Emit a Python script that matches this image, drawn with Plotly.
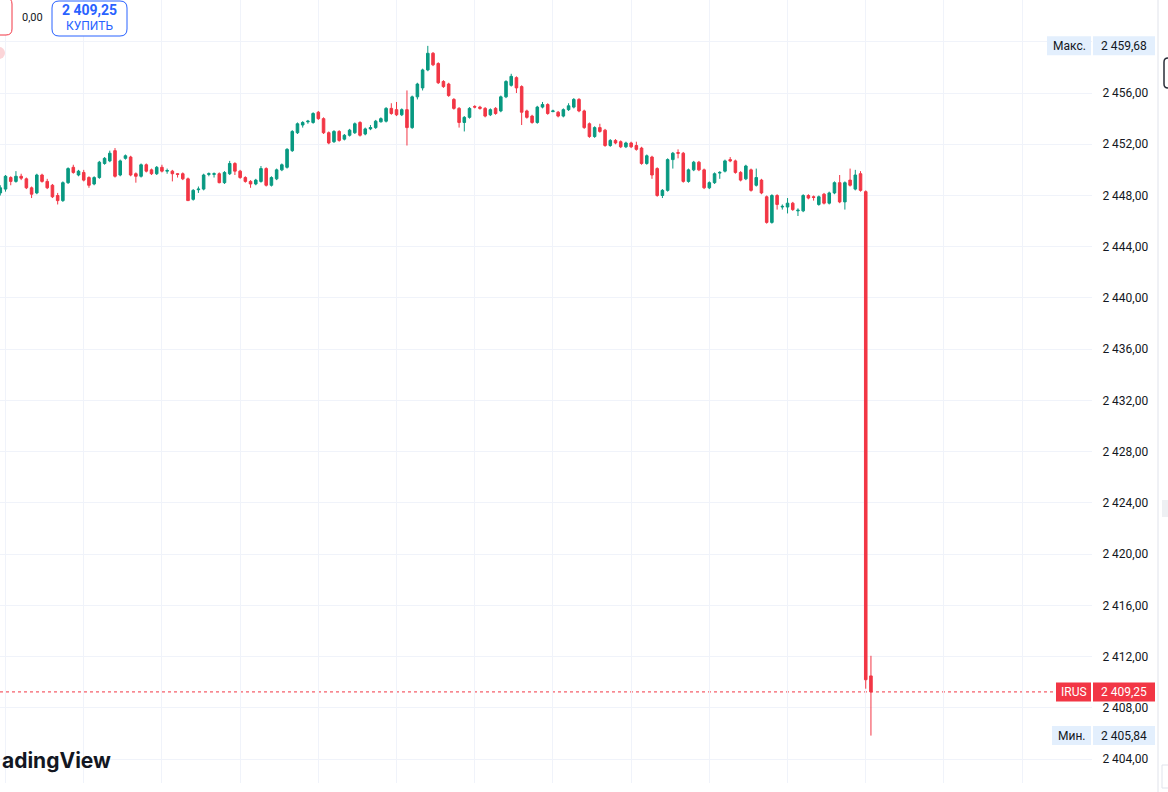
import plotly.graph_objects as go

# ---- data (1-minute candles) ----
opens = [2448.2, 2448.5, 2449.4, 2449.1, 2449.5, 2449.3, 2448.6, 2448.2, 2449.6, 2449.1,
         2448.8, 2448.0, 2447.6, 2449.0, 2450.2, 2449.6, 2449.8, 2449.4, 2448.9, 2449.4,
         2450.5, 2450.7, 2451.5, 2449.6, 2450.9, 2451.0, 2449.7, 2449.5, 2450.4, 2450.0,
         2449.7, 2450.2, 2449.9, 2449.9, 2449.7, 2449.7, 2449.3, 2447.7, 2448.45, 2448.5,
         2449.65, 2449.65, 2449.7, 2449.0, 2449.7, 2450.5, 2449.9, 2449.4, 2449.1, 2448.9,
         2449.1, 2450.1, 2448.8, 2449.3, 2450.0, 2450.2, 2451.5, 2452.9, 2453.5, 2453.75,
         2453.7, 2454.5, 2454.0, 2452.9, 2452.2, 2453.0, 2452.4, 2452.7, 2452.9, 2453.7,
         2452.8, 2453.2, 2453.3, 2453.75, 2453.8, 2454.8, 2454.7, 2454.3, 2454.7, 2453.3,
         2455.7, 2456.4, 2457.8, 2459.1, 2458.3, 2456.9, 2456.7, 2455.5, 2454.8, 2453.7,
         2454.1, 2454.95, 2454.9, 2454.8, 2454.3, 2454.8, 2454.6, 2455.7, 2456.6, 2457.2,
         2456.5, 2454.6, 2454.2, 2453.7, 2454.9, 2455.1, 2454.55, 2454.5, 2454.2, 2454.7,
         2454.9, 2455.5, 2454.6, 2453.6, 2452.6, 2453.3, 2453.1, 2451.9, 2452.3, 2452.2,
         2451.8, 2452.1, 2451.9, 2451.7, 2450.5, 2451.0, 2450.1, 2448.0, 2448.4, 2450.8,
         2451.35, 2451.3, 2449.1, 2450.0, 2450.6, 2450.0, 2448.6, 2449.0, 2449.75, 2449.9,
         2450.8, 2450.7, 2449.8, 2449.3, 2450.0, 2448.8, 2449.2, 2447.9, 2445.9, 2448.0,
         2447.1, 2447.1, 2447.4, 2446.8, 2446.8, 2448.0, 2447.9, 2447.3, 2448.1, 2447.4,
         2448.2, 2449.0, 2447.5, 2449.2, 2448.5, 2449.7, 2448.3, 2410.5]
highs = [2448.8, 2449.6, 2449.5, 2449.9, 2449.7, 2449.4, 2448.7, 2449.7, 2449.7, 2449.3,
         2448.9, 2448.2, 2449.1, 2450.2, 2450.4, 2450.0, 2450.0, 2449.5, 2449.5, 2450.7,
         2451.0, 2451.5, 2451.7, 2450.8, 2451.2, 2451.1, 2449.8, 2450.5, 2450.5, 2450.1,
         2450.3, 2450.4, 2450.1, 2450.0, 2449.75, 2449.8, 2449.4, 2448.5, 2448.7, 2449.7,
         2449.8, 2449.8, 2449.8, 2449.9, 2450.7, 2450.6, 2450.0, 2449.5, 2449.2, 2449.3,
         2450.3, 2450.2, 2449.5, 2450.1, 2450.5, 2451.7, 2453.1, 2453.7, 2453.8, 2453.9,
         2454.5, 2454.6, 2454.1, 2453.0, 2453.1, 2453.1, 2452.8, 2453.2, 2453.7, 2453.8,
         2453.3, 2453.5, 2453.9, 2454.1, 2454.9, 2455.2, 2455.3, 2454.8, 2456.2, 2455.8,
         2456.8, 2457.9, 2459.68, 2459.2, 2458.4, 2457.0, 2456.8, 2455.6, 2454.9, 2454.2,
         2454.9, 2455.05, 2455.0, 2454.9, 2454.8, 2454.9, 2455.8, 2457.0, 2457.5, 2457.3,
         2456.6, 2454.7, 2454.3, 2455.0, 2455.3, 2455.2, 2454.7, 2454.6, 2454.8, 2455.2,
         2455.6, 2455.6, 2454.7, 2453.7, 2453.4, 2453.6, 2453.2, 2452.4, 2452.4, 2452.3,
         2452.2, 2452.2, 2452.2, 2451.8, 2451.2, 2451.1, 2450.2, 2448.5, 2450.9, 2451.4,
         2451.6, 2451.4, 2450.1, 2450.7, 2450.7, 2450.1, 2449.1, 2449.8, 2449.9, 2450.8,
         2451.0, 2450.8, 2449.9, 2450.4, 2450.1, 2450.1, 2449.3, 2448.0, 2448.1, 2448.1,
         2447.3, 2447.8, 2447.5, 2447.0, 2448.1, 2448.1, 2448.0, 2448.0, 2448.2, 2448.3,
         2449.1, 2449.6, 2449.1, 2450.1, 2450.0, 2449.9, 2448.4, 2412.07]
lows = [2448.0, 2448.3, 2448.8, 2449.0, 2449.2, 2448.5, 2447.8, 2448.1, 2449.0, 2448.5,
        2447.8, 2447.3, 2447.5, 2448.9, 2449.7, 2449.5, 2449.1, 2448.6, 2448.8, 2449.3,
        2450.4, 2450.6, 2449.4, 2449.5, 2450.8, 2449.5, 2449.0, 2449.4, 2449.8, 2449.6,
        2449.6, 2449.8, 2449.7, 2449.1, 2449.4, 2449.2, 2447.6, 2447.6, 2448.2, 2448.4,
        2449.5, 2449.4, 2448.95, 2448.9, 2449.6, 2449.6, 2449.3, 2449.0, 2448.6, 2448.8,
        2449.0, 2448.7, 2448.7, 2449.2, 2449.9, 2450.1, 2451.4, 2452.8, 2453.3, 2453.6,
        2453.6, 2453.9, 2452.8, 2452.0, 2452.1, 2452.2, 2452.3, 2452.6, 2452.8, 2452.6,
        2452.7, 2453.1, 2453.2, 2453.7, 2453.7, 2454.3, 2454.2, 2454.2, 2451.9, 2453.2,
        2455.5, 2456.2, 2457.7, 2458.1, 2456.7, 2456.4, 2455.7, 2454.7, 2453.3, 2453.0,
        2454.0, 2454.8, 2454.7, 2454.1, 2454.2, 2454.3, 2454.5, 2455.6, 2456.5, 2456.0,
        2453.5, 2454.0, 2453.6, 2453.6, 2454.8, 2454.3, 2454.5, 2454.1, 2454.1, 2454.6,
        2454.8, 2454.5, 2453.2, 2452.5, 2452.5, 2452.9, 2451.8, 2451.8, 2452.0, 2451.7,
        2451.7, 2451.7, 2451.5, 2450.4, 2450.4, 2449.3, 2447.9, 2447.8, 2448.3, 2450.1,
        2450.9, 2449.0, 2449.0, 2449.9, 2449.9, 2448.5, 2448.5, 2448.9, 2449.3, 2449.8,
        2450.6, 2449.7, 2449.1, 2449.2, 2448.3, 2448.7, 2448.1, 2445.8, 2445.8, 2446.9,
        2446.9, 2446.6, 2446.8, 2446.4, 2446.7, 2447.7, 2447.6, 2447.2, 2447.3, 2447.3,
        2448.1, 2447.4, 2446.9, 2448.7, 2448.4, 2448.3, 2409.5, 2405.84]
closes = [2448.6, 2449.5, 2449.1, 2449.5, 2449.35, 2448.6, 2448.1, 2449.6, 2449.1, 2448.6,
          2447.9, 2447.6, 2449.0, 2450.1, 2449.8, 2449.9, 2449.2, 2448.8, 2449.4, 2450.6,
          2450.9, 2451.3, 2449.5, 2450.7, 2451.1, 2449.6, 2449.5, 2450.4, 2449.9, 2449.7,
          2450.2, 2449.9, 2449.95, 2449.7, 2449.65, 2449.3, 2447.6, 2448.4, 2448.5, 2449.6,
          2449.7, 2449.7, 2449.0, 2449.8, 2450.5, 2449.9, 2449.4, 2449.1, 2448.9, 2449.2,
          2450.1, 2448.8, 2449.4, 2450.0, 2450.4, 2451.6, 2453.0, 2453.6, 2453.7, 2453.8,
          2454.4, 2454.0, 2452.9, 2452.1, 2453.0, 2452.3, 2452.7, 2453.1, 2453.6, 2452.7,
          2453.2, 2453.3, 2453.8, 2454.0, 2454.8, 2454.4, 2454.3, 2454.7, 2453.3, 2455.7,
          2456.7, 2457.8, 2459.1, 2458.2, 2456.8, 2456.5, 2455.8, 2454.8, 2453.7, 2454.1,
          2454.8, 2454.9, 2454.8, 2454.2, 2454.7, 2454.4, 2455.7, 2456.9, 2457.3, 2456.4,
          2454.5, 2454.1, 2453.7, 2454.9, 2455.1, 2454.4, 2454.6, 2454.2, 2454.7, 2455.0,
          2455.5, 2454.6, 2453.3, 2452.6, 2453.3, 2453.0, 2451.9, 2452.3, 2452.1, 2451.8,
          2452.1, 2451.8, 2451.6, 2450.5, 2451.1, 2449.6, 2448.0, 2448.4, 2450.8, 2451.3,
          2451.3, 2449.1, 2450.0, 2450.6, 2450.0, 2448.6, 2449.0, 2449.7, 2449.8, 2450.7,
          2450.7, 2449.8, 2449.2, 2450.3, 2448.4, 2449.4, 2448.2, 2445.9, 2448.0, 2447.3,
          2447.15, 2447.4, 2446.9, 2446.85, 2448.0, 2447.8, 2447.85, 2447.9, 2447.4, 2448.2,
          2449.0, 2447.5, 2449.0, 2448.8, 2449.6, 2448.4, 2410.2, 2409.25]
minutes = list(range(len(closes)))
price_ticks = [2404, 2408, 2412, 2416, 2420, 2424, 2428, 2432, 2436, 2440,
               2444, 2448, 2452, 2456, 2460]
symbol = "IRUS"
last_price = 2409.25
max_price = 2459.68
min_price = 2405.84
buy_label = "КУПИТЬ"
spread_label = "0,00"
max_label = "Макс."
min_label = "Мин."
logo_text = "adingView"

GREEN = "#089981"
RED = "#f23645"
GRID = "#f0f3fa"
TEXT = "#131722"
LABEL_BG = "#e3effd"
BLUE = "#2962ff"

W, H = 1168, 792
PL, PR, PT, PB = 0, 1092, 0, 783   # plot area in pixels


def fmt(v):
    return f"{v:,.2f}".replace(",", " ").replace(".", ",")


def px(x):
    return (x - PL) / (PR - PL)


def py(y):
    return (PB - y) / (PB - PT)


def rrect(x0, y0, x1, y1, r):
    """rounded rect path in paper coords from pixel coords"""
    rx = r / (PR - PL)
    ry = r / (PB - PT)
    X0, X1 = px(x0), px(x1)
    Y0, Y1 = py(y0), py(y1)  # Y0 top (larger)
    return (f"M {X0+rx} {Y0} L {X1-rx} {Y0} Q {X1} {Y0} {X1} {Y0-ry} "
            f"L {X1} {Y1+ry} Q {X1} {Y1} {X1-rx} {Y1} L {X0+rx} {Y1} "
            f"Q {X0} {Y1} {X0} {Y1+ry} L {X0} {Y0-ry} Q {X0} {Y0} {X0+rx} {Y0} Z")


fig = go.Figure()
fig.add_trace(go.Candlestick(
    x=minutes, open=opens, high=highs, low=lows, close=closes,
    increasing=dict(line=dict(color=GREEN, width=1), fillcolor=GREEN),
    decreasing=dict(line=dict(color=RED, width=1), fillcolor=RED),
    whiskerwidth=0, showlegend=False, hoverinfo="skip",
))

x_grid = list(range(1, 210, 15))

shapes = []
# last-price dotted line
shapes.append(dict(type="line", xref="paper", yref="y", x0=0, x1=px(1055),
                   y0=last_price, y1=last_price,
                   line=dict(color=RED, width=1, dash="dot"), layer="below"))


def label_pair(yc, left_x0, bg):
    hh = 9.5 / 12.81
    shapes.append(dict(type="rect", xref="paper", yref="y",
                       x0=px(left_x0), x1=px(1091), y0=yc - hh, y1=yc + hh,
                       fillcolor=bg, line=dict(width=0), layer="above"))
    shapes.append(dict(type="rect", xref="paper", yref="y",
                       x0=px(1093), x1=px(1155), y0=yc - hh, y1=yc + hh,
                       fillcolor=bg, line=dict(width=0), layer="above"))


label_pair(max_price, 1047, LABEL_BG)
label_pair(last_price, 1056, RED)
label_pair(min_price, 1052, LABEL_BG)

# right separator and toolbar bits
shapes.append(dict(type="line", xref="paper", yref="paper", x0=px(1158), x1=px(1158),
                   y0=py(0), y1=py(792), line=dict(color="#e0e3eb", width=1)))
shapes.append(dict(type="path", xref="paper", yref="paper",
                   path=rrect(1164, 58, 1178, 88, 4),
                   line=dict(color="#2a2e39", width=1.5), fillcolor="white"))
shapes.append(dict(type="rect", xref="paper", yref="paper",
                   x0=px(1162), x1=px(1168), y0=py(500), y1=py(517),
                   line=dict(width=0), fillcolor="#eef0f3"))
shapes.append(dict(type="rect", xref="paper", yref="paper",
                   x0=px(1162), x1=px(1170), y0=py(765), y1=py(788),
                   line=dict(color="#e0e3eb", width=1), fillcolor="white"))

# top-left trading buttons
shapes.append(dict(type="path", xref="paper", yref="paper",
                   path=rrect(-20, -2, 12, 35, 6),
                   line=dict(color=RED, width=1), fillcolor="white"))
shapes.append(dict(type="path", xref="paper", yref="paper",
                   path=rrect(52, 1, 127, 36, 7),
                   line=dict(color=BLUE, width=1), fillcolor="white"))
shapes.append(dict(type="circle", xref="paper", yref="paper",
                   x0=px(-7), x1=px(5), y0=py(59), y1=py(47),
                   line=dict(width=0), fillcolor="#fbd5d8"))

annotations = []


def txt(x, y, text, size=12, color=TEXT, anchor="left", bold=False, yref="paper", family="Roboto"):
    annotations.append(dict(
        x=x, y=y, xref="paper", yref=yref, text=f"<b>{text}</b>" if bold else text,
        showarrow=False, xanchor=anchor, yanchor="middle",
        font=dict(size=size, color=color, family=family)))


txt(px(1069), max_price, max_label, 12, TEXT, "center", yref="y")
txt(px(1124), max_price, fmt(max_price), 12, TEXT, "center", yref="y")
txt(px(1073.5), last_price, symbol, 12, "white", "center", yref="y")
txt(px(1124), last_price, fmt(last_price), 12, "white", "center", yref="y")
txt(px(1071.5), min_price, min_label, 12, TEXT, "center", yref="y")
txt(px(1124), min_price, fmt(min_price), 12, TEXT, "center", yref="y")

txt(px(32.5), py(17), spread_label, 11, TEXT, "center")
txt(px(89.5), py(10), fmt(last_price), 14, BLUE, "center", bold=True)
txt(px(89.5), py(25.5), buy_label, 12, BLUE, "center")
txt(px(0), py(760), logo_text, 21, TEXT, "left", bold=True, family="Inter")

fig.update_layout(
    width=W, height=H,
    margin=dict(l=PL, r=W - PR, t=PT, b=H - PB),
    paper_bgcolor="white", plot_bgcolor="white",
    separators=", ",
    font=dict(family="Roboto", color=TEXT, size=12),
    shapes=shapes, annotations=annotations,
    xaxis=dict(range=[-0.06, 209.4], tickvals=x_grid, showticklabels=False,
               showgrid=True, gridcolor=GRID, gridwidth=1, zeroline=False,
               showline=False, rangeslider=dict(visible=False), fixedrange=True),
    yaxis=dict(side="right", range=[2402.14, 2463.26], tickvals=price_ticks,
               ticktext=[fmt(v) if v != 2460 else "" for v in price_ticks],
               showgrid=True, gridcolor=GRID, gridwidth=1, zeroline=False,
               showline=False, ticks="outside", ticklen=7,
               tickcolor="rgba(0,0,0,0)", tickfont=dict(size=12, color=TEXT),
               fixedrange=True),
)

fig.write_html("out.html", config={"displayModeBar": False},
               post_script="document.body.style.margin='0';document.body.style.overflow='hidden';")
